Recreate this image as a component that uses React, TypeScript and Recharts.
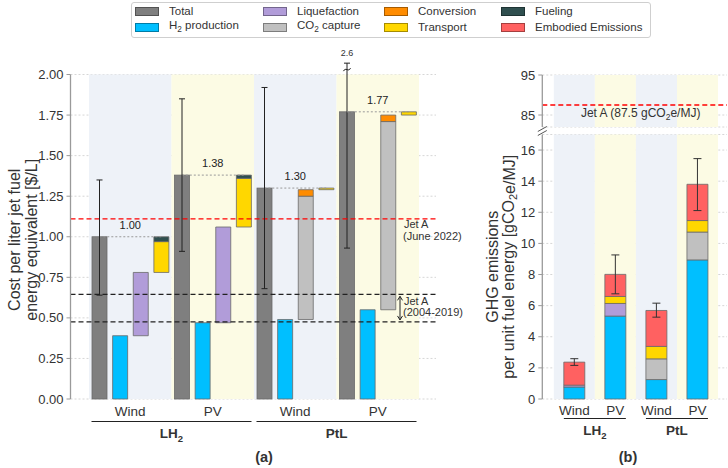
import React from 'react';
import { Bar, CartesianGrid, ComposedChart, ErrorBar, ReferenceArea, ReferenceLine, XAxis, YAxis } from 'recharts';

// pathways (one band each)
const groups = ['LH2-Wind', 'LH2-PV', 'PtL-Wind', 'PtL-PV'];
const groupSource = ['Wind', 'PV', 'Wind', 'PV'];
const groupFuel = ['LH2', 'LH2', 'PtL', 'PtL'];
const bandColors = ['#eef2f8', '#fcfbe4', '#eef2f8', '#fcfbe4'];

// (a) cost per liter jet fuel equivalent [$/L]
const costTotal = [1.0, 1.38, 1.3, 1.77];
const costH2 = [0.39, 0.47, 0.49, 0.55];
const costLiquefaction = [0.39, 0.59, 0, 0];
const costCo2 = [0, 0, 0.76, 1.16];
const costConversion = [0, 0, 0.04, 0.04];
const costTransport = [0.19, 0.3, 0.01, 0.02];
const costFueling = [0.03, 0.02, 0, 0];
const costLow = [0.64, 0.91, 0.68, 0.93];
const costHigh = [1.35, 1.85, 1.92, 2.6];
const costTicks = [0, 0.25, 0.5, 0.75, 1, 1.25, 1.5, 1.75, 2];
const costMax = 2;
const jetAJune2022 = 1.11;
const jetAHistLow = 0.475;
const jetAHistHigh = 0.645;

// (b) GHG emissions per unit fuel energy [gCO2e/MJ]
const ghgH2 = [0.77, 5.33, 1.25, 8.94];
const ghgLiquefaction = [0.12, 0.81, 0, 0];
const ghgCo2 = [0, 0, 1.33, 1.79];
const ghgTransport = [0, 0.45, 0.8, 0.74];
const ghgEmbodied = [1.48, 1.42, 2.31, 2.33];
const ghgLow = [2.16, 6.76, 5.26, 12.11];
const ghgHigh = [2.59, 9.26, 6.16, 15.45];
const ghgTicksLow = [0, 2, 4, 6, 8, 10, 12, 14, 16];
const ghgTicksHigh = [85, 90, 95];
const jetAGhg = 87.5;

const SERIES: Record<string, { name: string; color: string }> = {
  total: { name: 'Total', color: '#7f7f7f' },
  h2: { name: 'H2 production', color: '#00bfff' },
  liquefaction: { name: 'Liquefaction', color: '#b19cd9' },
  co2: { name: 'CO2 capture', color: '#c0c0c0' },
  conversion: { name: 'Conversion', color: '#ff8c00' },
  transport: { name: 'Transport', color: '#ffd700' },
  fueling: { name: 'Fueling', color: '#2f4f4f' },
  embodied: { name: 'Embodied Emissions', color: '#ff6161' },
};
const legendOrder = ['total', 'h2', 'liquefaction', 'co2', 'conversion', 'transport', 'fueling', 'embodied'];
const costStack = ['total', 'h2', 'liquefaction', 'co2', 'conversion', 'transport', 'fueling'];
const ghgStack = ['h2', 'liquefaction', 'co2', 'transport', 'embodied'];

const EDGE = '#6a6a6a';
const TXT = '#333';
const nz = (v: number) => (v > 0 ? v : null);

// waterfall rows: 4 slots per pathway
const costRows = groups.flatMap((g, i) => {
  const step3 = costH2[i] + costLiquefaction[i] + costCo2[i] + costConversion[i];
  const broken = costHigh[i] > costMax;
  const common = { grp: g, fuel: groupFuel[i] };
  return [
    {
      ...common,
      slot: `${g}-1`,
      total: costTotal[i],
      low: costLow[i],
      high: costHigh[i],
      broken,
      err: broken ? null : [costTotal[i] - costLow[i], costHigh[i] - costTotal[i]],
    },
    { ...common, slot: `${g}-2`, h2: costH2[i] },
    {
      ...common,
      slot: `${g}-3`,
      base: costH2[i],
      liquefaction: nz(costLiquefaction[i]),
      co2: nz(costCo2[i]),
      conversion: nz(costConversion[i]),
    },
    { ...common, slot: `${g}-4`, base: step3, transport: nz(costTransport[i]), fueling: nz(costFueling[i]) },
  ];
});

const ghgRows = groups.map((g, i) => {
  const top = ghgH2[i] + ghgLiquefaction[i] + ghgCo2[i] + ghgTransport[i] + ghgEmbodied[i];
  return {
    grp: g,
    fuel: groupFuel[i],
    h2: ghgH2[i],
    liquefaction: nz(ghgLiquefaction[i]),
    co2: nz(ghgCo2[i]),
    transport: nz(ghgTransport[i]),
    embodied: ghgEmbodied[i],
    err: [top - ghgLow[i], ghgHigh[i] - top],
  };
});

const withSub = (name: string) =>
  name.split(/(\d)/).map((p, k) => (/\d/.test(p) ? <sub key={k} style={{ fontSize: '0.72em' }}>{p}</sub> : <span key={k}>{p}</span>));

const makeGroupTick = (baseline: number) => (props: any) => {
  const { x, y, payload } = props;
  const i = groups.indexOf(payload.value);
  return (
    <text x={x} y={y + baseline} textAnchor="middle" fontSize={13.5} fill={TXT}>
      {groupSource[i]}
    </text>
  );
};

const makeFuelTick = (half: number, baseline: number) => (props: any) => {
  const { x, y, payload } = props;
  return (
    <g>
      <line x1={x - half} x2={x + half} y1={y + 0.5} y2={y + 0.5} stroke="#222" strokeWidth={1.2} />
      <text x={x} y={y + baseline} textAnchor="middle" fontSize={13.5} fontWeight="bold" fill={TXT}>
        {payload.value === 'LH2' ? (
          <>
            LH<tspan dy={4} fontSize={9.5}>2</tspan>
          </>
        ) : (
          payload.value
        )}
      </text>
    </g>
  );
};

const makeYLabel = (lines: React.ReactNode[], first: number, cyShift: number) => (props: any) => {
  const { x, y, height } = props.viewBox;
  const cy = y + height / 2 + cyShift;
  return (
    <g>
      {lines.map((ln, k) => {
        const cx = x + first + k * 16.5;
        return (
          <text
            key={k}
            x={cx}
            y={cy}
            transform={`rotate(-90 ${cx} ${cy})`}
            textAnchor="middle"
            dominantBaseline="central"
            fontSize={16}
            fill={TXT}
          >
            {ln}
          </text>
        );
      })}
    </g>
  );
};

const axisProps = {
  axisLine: { stroke: '#9a9a9a', strokeWidth: 1.3 },
  tickLine: { stroke: '#9a9a9a' },
  tickSize: 4,
  tickMargin: 3,
  tick: { fontSize: 13, fill: TXT },
};

// total bar, with the broken whisker for values above the axis
const TotalShape = (props: any) => {
  const { x, y, width, height, payload } = props;
  if (!height || !payload || payload.total == null) return null;
  const cx = x + width / 2;
  const ppu = height / payload.total;
  const yAt = (v: number) => y + height - v * ppu;
  const yTop = yAt(costMax + 0.07);
  const ys = yAt(costMax + 0.03);
  return (
    <g>
      <rect x={x} y={y} width={width} height={height} fill={SERIES.total.color} stroke={EDGE} strokeWidth={0.8} />
      {payload.broken && (
        <g stroke="#222" strokeWidth={1} fill="none">
          <line x1={cx} x2={cx} y1={yAt(payload.low)} y2={yTop} />
          <line x1={cx - 3} x2={cx + 3} y1={yAt(payload.low)} y2={yAt(payload.low)} />
          <line x1={cx - 3} x2={cx + 3} y1={yTop} y2={yTop} />
          <path d={`M ${cx - 3.5} ${ys + 1.5} C ${cx - 1.5} ${ys - 3}, ${cx + 1.5} ${ys + 3}, ${cx + 3.5} ${ys - 1.5}`} />
          <text x={cx} y={yTop - 7} textAnchor="middle" fontSize={9} fill={TXT} stroke="none">
            {payload.high}
          </text>
        </g>
      )}
    </g>
  );
};

const JetAJuneLabel = (props: any) => {
  const { x, y, width } = props.viewBox;
  const lx = x + width - 33;
  return (
    <text fontSize={11} fill={TXT}>
      <tspan x={lx + 1} y={y + 9}>Jet A</tspan>
      <tspan x={lx} y={y + 21}>(June 2022)</tspan>
    </text>
  );
};

// the area spans the category range (inside the axis padding)
const JetAHistLabel = (props: any) => {
  const { x, y, width, height } = props.viewBox;
  const ax = x + width - 19;
  const y1 = y + 2;
  const y2 = y + height - 2;
  return (
    <g>
      <line x1={ax} x2={ax} y1={y1} y2={y2} stroke="#222" strokeWidth={1} />
      <path d={`M ${ax - 2.5} ${y1 + 4} L ${ax} ${y1} L ${ax + 2.5} ${y1 + 4}`} stroke="#222" fill="none" />
      <path d={`M ${ax - 2.5} ${y2 - 4} L ${ax} ${y2} L ${ax + 2.5} ${y2 - 4}`} stroke="#222" fill="none" />
      <text fontSize={11} fill={TXT}>
        <tspan x={ax + 4} y={y + 10.5}>Jet A</tspan>
        <tspan x={ax + 3} y={y + 21.5}>(2004-2019)</tspan>
      </text>
    </g>
  );
};

const JetAGhgLabel = (props: any) => {
  const { x, y, width } = props.viewBox;
  return (
    <text x={x + width / 2 + 6} y={y + 12} textAnchor="middle" fontSize={12} fill={TXT}>
      Jet A (87.5 gCO<tspan dy={3} fontSize={8.5}>2</tspan>
      <tspan dy={-3}>e/MJ)</tspan>
    </text>
  );
};

const BreakMarks = (props: any) => {
  const { x, y, width, height } = props.viewBox;
  const ax = x + width;
  const by = y + height;
  return (
    <g stroke="#555" strokeWidth={1}>
      <line x1={ax - 4.5} y1={by + 4.5} x2={ax + 4.5} y2={by - 0.5} />
      <line x1={ax - 4.5} y1={by + 8.5} x2={ax + 4.5} y2={by + 3.5} />
    </g>
  );
};

const padA = { left: 18.5, right: 17 };
const padB = { left: 11.5, right: 9 };
const catAxis = { axisLine: false, tickLine: false, tickSize: 0, tickMargin: 0, interval: 0 } as const;

const CostChart = () => (
  <ComposedChart width={470} height={468} data={costRows} margin={{ top: 74.5, right: 34, bottom: 21, left: 0 }} barSize={15}>
    {groups.map((g, i) => (
      <ReferenceArea key={g} xAxisId="xa" x1={g} x2={g} y1={0} y2={costMax} fill={bandColors[i]} fillOpacity={1} stroke="none" />
    ))}
    <CartesianGrid xAxisId="slot" vertical={false} stroke="#d6d6d6" strokeDasharray="2 2" />
    <XAxis xAxisId="slot" dataKey="slot" hide height={0} padding={padA} />
    <XAxis xAxisId="xb" dataKey="fuel" allowDuplicatedCategory={false} padding={padA} height={26} {...catAxis} tick={makeFuelTick(80, 17)} />
    <XAxis xAxisId="xa" dataKey="grp" allowDuplicatedCategory={false} padding={padA} height={22} {...catAxis} tick={makeGroupTick(16.5)} />
    <YAxis
      domain={[0, costMax]}
      ticks={costTicks}
      tickFormatter={(v: number) => v.toFixed(2)}
      width={70.5}
      {...axisProps}
      label={makeYLabel(['Cost per liter jet fuel', 'energy equivalent [$/L]'], 14.5, 3)}
    />
    <ReferenceLine xAxisId="slot" y={jetAJune2022} stroke="#ff0000" strokeWidth={1.3} strokeDasharray="5 3" label={JetAJuneLabel} />
    <ReferenceLine xAxisId="slot" y={jetAHistHigh} stroke="#222" strokeWidth={1.2} strokeDasharray="5 3" />
    <ReferenceLine xAxisId="slot" y={jetAHistLow} stroke="#222" strokeWidth={1.2} strokeDasharray="5 3" />
    <ReferenceArea xAxisId="slot" y1={jetAHistLow} y2={jetAHistHigh} fill="none" stroke="none" label={JetAHistLabel} />
    {groups.map((g, i) => (
      <ReferenceLine
        key={`c-${g}`}
        xAxisId="slot"
        segment={[
          { x: `${g}-1`, y: costTotal[i] },
          { x: `${g}-4`, y: costTotal[i] },
        ]}
        stroke="#999"
        strokeDasharray="2 2"
        label={{ value: costTotal[i].toFixed(2), position: 'top', offset: 8, fontSize: 11, fill: '#222' }}
      />
    ))}
    <Bar xAxisId="slot" dataKey="base" stackId="c" fill="none" stroke="none" isAnimationActive={false} />
    {costStack.map((k) =>
      k === 'total' ? (
        <Bar key={k} xAxisId="slot" dataKey={k} stackId="c" fill={SERIES[k].color} shape={TotalShape} isAnimationActive={false}>
          <ErrorBar dataKey="err" width={3} stroke="#222" strokeWidth={1} direction="y" isAnimationActive={false} />
        </Bar>
      ) : (
        <Bar key={k} xAxisId="slot" dataKey={k} stackId="c" fill={SERIES[k].color} stroke={EDGE} strokeWidth={0.8} isAnimationActive={false} />
      )
    )}
  </ComposedChart>
);

const GhgChart = () => (
  <ComposedChart width={258} height={468} data={ghgRows} margin={{ top: 134.5, right: 1, bottom: 28, left: 0 }} barSize={21}>
    {groups.map((g, i) => (
      <ReferenceArea key={g} xAxisId="xa" x1={g} x2={g} y1={0} y2={17} fill={bandColors[i]} fillOpacity={1} stroke="none" />
    ))}
    <CartesianGrid xAxisId="xa" vertical={false} stroke="#d6d6d6" strokeDasharray="2 2" />
    <XAxis xAxisId="xb" dataKey="fuel" allowDuplicatedCategory={false} padding={padB} height={22} {...catAxis} tick={makeFuelTick(31, 16.5)} />
    <XAxis xAxisId="xa" dataKey="grp" padding={padB} height={19} {...catAxis} tick={makeGroupTick(16)} />
    <YAxis
      domain={[0, 17]}
      ticks={ghgTicksLow}
      width={72.3}
      {...axisProps}
      label={makeYLabel(
        [
          'GHG emissions',
          <>
            per unit fuel energy [gCO<tspan dy={4} fontSize={11}>2</tspan>
            <tspan dy={-4}>e/MJ]</tspan>
          </>,
        ],
        22,
        0
      )}
    />
    {ghgStack.map((k) => (
      <Bar key={k} xAxisId="xa" dataKey={k} stackId="g" fill={SERIES[k].color} stroke={EDGE} strokeWidth={0.8} isAnimationActive={false}>
        {k === 'embodied' && <ErrorBar dataKey="err" width={4} stroke="#333" strokeWidth={1} direction="y" isAnimationActive={false} />}
      </Bar>
    ))}
  </ComposedChart>
);

// upper segment of the broken axis: no bar reaches it
const GhgTopChart = () => (
  <ComposedChart width={258} height={140} data={ghgRows} margin={{ top: 75, right: 1, bottom: 13, left: 0 }} barSize={21}>
    {groups.map((g, i) => (
      <ReferenceArea key={g} xAxisId="xa" x1={g} x2={g} y1={82} y2={95} fill={bandColors[i]} fillOpacity={1} stroke="none" />
    ))}
    <CartesianGrid xAxisId="xa" vertical={false} stroke="#d6d6d6" strokeDasharray="2 2" />
    <XAxis xAxisId="xa" dataKey="grp" hide padding={padB} />
    <YAxis domain={[82, 95]} ticks={ghgTicksHigh} allowDataOverflow width={72.3} {...axisProps} label={BreakMarks} />
    <Bar xAxisId="xa" dataKey="embodied" fill="none" stroke="none" isAnimationActive={false} />
    <ReferenceLine xAxisId="xa" y={jetAGhg} stroke="#ff0000" strokeWidth={1.3} strokeDasharray="5 3" label={JetAGhgLabel} />
  </ComposedChart>
);

const Legend = () => (
  <div
    style={{
      position: 'absolute',
      left: 131,
      top: 2,
      width: 515,
      height: 34,
      border: '1px solid #cfcfcf',
      borderRadius: 3,
      padding: '0 0 0 3px',
      display: 'grid',
      gridTemplateColumns: '128px 121px 117px 1fr',
      gridTemplateRows: '16px 16px',
      gridAutoFlow: 'column',
      fontSize: 11.5,
      color: TXT,
      background: '#fff',
    }}
  >
    {legendOrder.map((k) => (
      <div key={k} style={{ display: 'flex', alignItems: 'center', whiteSpace: 'nowrap' }}>
        <span
          style={{
            display: 'inline-block',
            width: 22,
            height: 7,
            background: SERIES[k].color,
            border: '1px solid rgba(0,0,0,0.35)',
            marginRight: 10,
          }}
        />
        <span>{withSub(SERIES[k].name)}</span>
      </div>
    ))}
  </div>
);

export default function App() {
  return (
    <div
      style={{
        position: 'absolute',
        left: 0,
        top: 0,
        width: 728,
        height: 468,
        background: '#fff',
        fontFamily: "'Liberation Sans', Arial, sans-serif",
        overflow: 'hidden',
      }}
    >
      <div style={{ position: 'absolute', left: 0, top: 0 }}>
        <CostChart />
      </div>
      <div style={{ position: 'absolute', left: 470, top: 0 }}>
        <GhgChart />
      </div>
      <div style={{ position: 'absolute', left: 470, top: 0 }}>
        <GhgTopChart />
      </div>
      <Legend />
      <div style={{ position: 'absolute', left: 244, top: 449, width: 40, textAlign: 'center', fontWeight: 'bold', fontSize: 14.5, color: TXT }}>
        (a)
      </div>
      <div style={{ position: 'absolute', left: 608, top: 449, width: 40, textAlign: 'center', fontWeight: 'bold', fontSize: 14.5, color: TXT }}>
        (b)
      </div>
    </div>
  );
}
